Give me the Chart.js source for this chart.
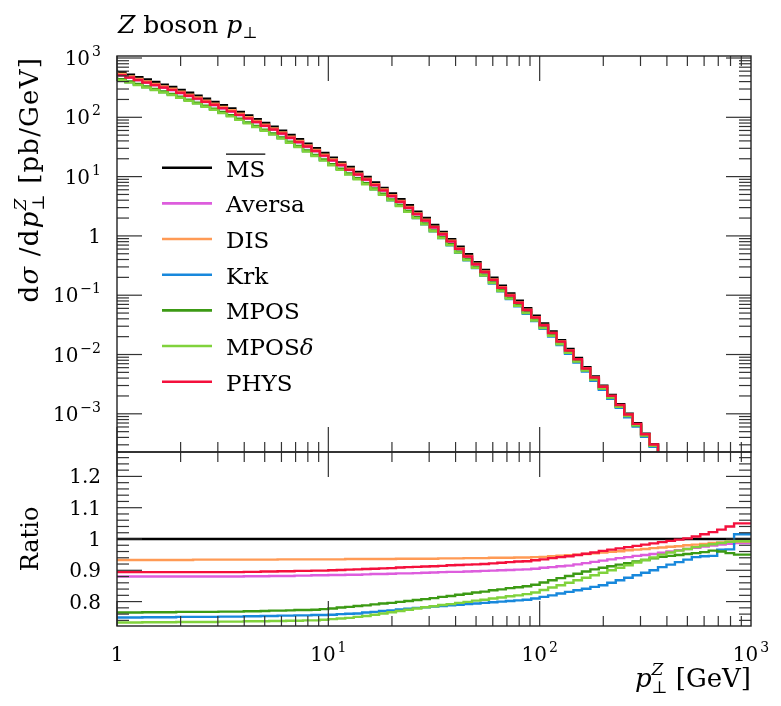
<!DOCTYPE html>
<html><head><meta charset="utf-8">
<script src="https://cdn.jsdelivr.net/npm/chart.js@4.4.1/dist/chart.umd.min.js"></script>
<style>
html,body{margin:0;padding:0;background:#fff;}
#wrap{position:relative;width:781px;height:706px;overflow:hidden;background:#fff;}
canvas{position:absolute;left:0;top:0;}
</style></head>
<body><div id="wrap"><canvas id="main" width="781" height="706"></canvas><canvas id="ratio" width="781" height="706"></canvas></div>
<script>
// ---------------- DATA ----------------
const binsPerDecade = 25;            // log bins from 1 to 1000 GeV
const nBins = 75;
const xEdges = Array.from({length: nBins + 1}, (_, k) => Math.pow(10, k / binsPerDecade));

const seriesNames = ['MS', 'Aversa', 'DIS', 'Krk', 'MPOS', 'MPOSδ', 'PHYS'];

// reference (MS-bar) dσ/dp⊥ [pb/GeV], one value per bin
const msbar = [631,575,525,476,433,393,356,324,290,259,231,205,182,160,141,123,107,93.3,80.5,69.5,
  59.4,50.4,42.7,35.8,30.1,25.1,20.9,17.4,14.5,12.0,9.86,7.98,6.46,5.18,4.15,3.28,2.56,2.00,1.53,1.17,
  0.883,0.658,0.490,0.361,0.267,0.197,0.145,0.107,0.0805,0.0605,0.0451,0.0333,0.0245,0.0175,0.0124,
  0.00875,0.00611,0.00427,0.00298,0.00208,0.00145,0.00100,0.000692,0.000461,0.000308,0.000204,0.000135,
  8.9e-5,5.9e-5,3.9e-5,2.6e-5,1.7e-5,1.12e-5,7.4e-6,4.9e-6];

// ratios to MS-bar, one value per bin
const ratioAversa = [0.880,0.880,0.880,0.880,0.880,0.880,0.880,0.880,0.880,0.880,0.880,0.880,0.880,0.880,0.880,
  0.880,0.881,0.881,0.881,0.882,0.882,0.882,0.883,0.883,0.884,
  0.884,0.885,0.885,0.886,0.886,0.887,0.888,0.888,0.889,0.890,0.890,0.891,0.892,
  0.893,0.894,0.895,0.895,0.896,0.897,0.898,0.899,0.900,0.901,0.902,0.903,
  0.905,0.908,0.910,0.913,0.915,0.919,0.923,0.927,0.931,0.935,
  0.939,0.942,0.946,0.949,0.952,0.956,0.960,0.964,0.968,0.972,0.976,0.979,0.982,0.985,0.987];
const ratioDIS = [0.933,0.933,0.933,0.933,0.933,0.933,0.933,0.933,0.933,0.933,0.934,0.934,0.934,0.934,0.934,
  0.934,0.934,0.934,0.934,0.934,0.935,0.935,0.935,0.935,0.935,
  0.935,0.935,0.935,0.936,0.936,0.936,0.936,0.936,0.936,0.937,0.937,0.937,0.937,
  0.937,0.938,0.938,0.938,0.939,0.939,0.939,0.940,0.940,0.940,0.941,0.941,
  0.942,0.943,0.945,0.947,0.948,0.950,0.952,0.954,0.957,0.959,0.961,0.964,0.966,0.968,0.971,
  0.973,0.975,0.977,0.980,0.982,0.984,0.987,0.989,0.991,0.992];
const ratioKrk = [0.749,0.749,0.749,0.749,0.750,0.750,0.750,0.750,0.751,0.751,0.751,0.751,0.751,0.752,0.752,
  0.752,0.753,0.753,0.754,0.754,0.755,0.755,0.756,0.756,0.757,
  0.757,0.758,0.760,0.761,0.762,0.765,0.767,0.770,0.772,0.775,0.777,0.780,0.782,
  0.784,0.786,0.788,0.790,0.792,0.794,0.796,0.798,0.800,0.802,0.804,0.806,
  0.810,0.815,0.820,0.826,0.831,0.836,0.841,0.847,
  0.852,0.860,0.868,0.876,0.884,0.892,0.900,0.910,
  0.918,0.926,0.934,0.942,0.945,0.946,0.966,0.967,1.015];
const ratioMPOS = [0.765,0.765,0.765,0.765,0.766,0.766,0.766,0.766,0.767,0.767,0.767,0.767,0.767,0.768,0.768,
  0.768,0.769,0.769,0.770,0.771,0.771,0.772,0.773,0.773,0.774,
  0.776,0.778,0.781,0.783,0.786,0.788,0.791,0.794,0.796,0.799,0.802,0.805,0.808,
  0.811,0.815,0.818,0.822,0.825,0.829,0.832,0.836,0.839,0.843,0.846,0.849,
  0.854,0.861,0.868,0.875,0.882,0.889,0.896,0.903,
  0.908,0.913,0.918,0.923,0.928,0.933,0.938,0.943,
  0.946,0.949,0.952,0.955,0.958,0.963,0.960,0.955,0.950];
const ratioMPOSdelta = [0.733,0.733,0.733,0.733,0.734,0.734,0.734,0.734,0.735,0.735,0.735,0.735,0.735,0.736,0.736,
  0.736,0.737,0.737,0.737,0.738,0.738,0.739,0.739,0.740,0.740,
  0.742,0.744,0.746,0.748,0.751,0.754,0.758,0.762,0.766,0.770,0.774,0.778,0.782,
  0.785,0.789,0.792,0.796,0.799,0.803,0.806,0.810,0.813,0.817,0.820,0.824,
  0.829,0.837,0.845,0.852,0.860,0.868,0.876,0.884,
  0.892,0.900,0.908,0.916,0.925,0.933,0.941,0.950,
  0.957,0.963,0.968,0.974,0.979,0.983,0.987,0.991,0.993];
const ratioPHYS = [0.894,0.894,0.894,0.894,0.894,0.894,0.894,0.894,0.894,0.894,0.894,0.894,0.894,0.894,0.894,
  0.894,0.895,0.895,0.896,0.896,0.897,0.897,0.898,0.898,0.899,
  0.899,0.900,0.901,0.902,0.903,0.904,0.905,0.906,0.907,0.909,0.910,0.911,0.912,
  0.913,0.914,0.916,0.917,0.918,0.919,0.920,0.922,0.924,0.926,0.928,0.929,
  0.932,0.935,0.939,0.942,0.945,0.949,0.953,0.957,0.962,0.966,
  0.970,0.974,0.978,0.982,0.986,0.990,0.994,0.998,1.002,
  1.008,1.015,1.022,1.030,1.040,1.050];

// tick labels
const xMajorTicks = [1, 10, 100, 1000];
const xTickExps = [0, 1, 2, 3];
const yMajorExps = [3, 2, 1, 0, -1, -2, -3];
const ratioMajorTicks = [0.8, 0.9, 1.0, 1.1, 1.2];
const ratioTickLabels = ['0.8', '0.9', '1', '1.1', '1.2'];

// ---------------- STYLE ----------------
const seriesColors = ['#000000', '#dd5ddd', '#ff9a55', '#1888dc', '#3c9a14', '#80d23c', '#f4103c'];
const SERIF = '"DejaVu Serif", serif';
const F = (px, it) => (it ? 'italic ' : '') + px + 'px ' + SERIF;

const ratioSeries = [msbar.map((v) => v / v), ratioAversa, ratioDIS, ratioKrk, ratioMPOS, ratioMPOSdelta, ratioPHYS];
const upperSeries = ratioSeries.map(r => msbar.map((v, i) => v * r[i]));

function stepPoints(vals) {
  return xEdges.map((x, k) => ({x: x, y: vals[Math.min(k, vals.length - 1)]}));
}

function drawRich(ctx, x, y, parts, align) {
  let cursor = 0, prevStart = 0, prevW = 0;
  const placed = [];
  for (const p of parts) {
    ctx.font = p.f;
    const w = ctx.measureText(p.t).width;
    if (p.dx) cursor += p.dx;
    if (p.stack) {
      placed.push({p, x: prevStart});
      const nw = Math.max(prevW, w);
      cursor = prevStart + nw; prevW = nw;
    } else {
      placed.push({p, x: cursor});
      prevStart = cursor; prevW = w; cursor += w;
    }
  }
  const x0 = align === 'right' ? x - cursor : align === 'center' ? x - cursor / 2 : x;
  ctx.textBaseline = 'alphabetic'; ctx.textAlign = 'left'; ctx.fillStyle = '#000';
  for (const q of placed) { ctx.font = q.p.f; ctx.fillText(q.p.t, x0 + q.x, y + (q.p.dy || 0)); }
  return cursor;
}
function expParts(e, big, small) {
  if (e === 0) return [{t: '1', f: F(big)}];
  const s = e < 0 ? '\u2212' + (-e) : String(e);
  return [{t: '10', f: F(big)}, {t: s, f: F(small), dy: -9, dx: 2}];
}
function seg(ctx, x1, y1, x2, y2) { ctx.beginPath(); ctx.moveTo(x1, y1); ctx.lineTo(x2, y2); ctx.stroke(); }

const MAJ = 25, MINX = 10, MINY = 12;
function drawXTicks(ctx, a, xs) {
  for (let d = 0; d < 3; d++) for (let m = 1; m <= 9; m++) {
    const v = m * Math.pow(10, d);
    const px = xs.getPixelForValue(v);
    const len = m === 1 ? MAJ : MINX;
    seg(ctx, px, a.top, px, a.top + len);
    seg(ctx, px, a.bottom, px, a.bottom - len);
  }
}

const upperPlugin = {
  id: 'upperDecor',
  afterDatasetsDraw(chart) {
    const {ctx, chartArea: a, scales: {x, y}} = chart;
    ctx.save();
    ctx.strokeStyle = '#333'; ctx.lineWidth = 1.2;
    drawXTicks(ctx, a, x);
    for (let e = -4; e <= 3; e++) for (let m = 1; m <= 9; m++) {
      const v = m * Math.pow(10, e);
      if (v < y.min || v > y.max) continue;
      const py = y.getPixelForValue(v);
      const len = m === 1 ? MAJ : MINY;
      seg(ctx, a.left, py, a.left + len, py);
      seg(ctx, a.right, py, a.right - len, py);
    }
    ctx.lineWidth = 1.4; ctx.strokeStyle = '#222';
    ctx.strokeRect(a.left, a.top, a.right - a.left, a.bottom - a.top);
    // y tick labels
    yMajorExps.forEach(e => {
      const py = y.getPixelForValue(Math.pow(10, e));
      drawRich(ctx, 101, py + 7, expParts(e, 20, 14), 'right');
    });
    // title
    drawRich(ctx, 118, 33, [{t: 'Z', f: F(25, true)}, {t: ' boson ', f: F(25)}, {t: 'p', f: F(25, true)}, {t: '\u22A5', f: F(16), dy: 5}], 'left');
    // y title (rotated)
    ctx.save();
    ctx.translate(38, 57); ctx.rotate(-Math.PI / 2);
    ctx.letterSpacing = '1.2px';
    drawRich(ctx, 0, 0, [{t: 'd', f: F(26)}, {t: 'σ', f: F(26, true)}, {t: ' /', f: F(26)}, {t: 'd', f: F(26)},
      {t: 'p', f: F(26, true)}, {t: '\u22A5', f: F(17), dy: 6}, {t: 'Z', f: F(17, true), dy: -12, stack: true},
      {t: ' [pb/GeV]', f: F(26)}], 'right');
    ctx.letterSpacing = '0px';
    ctx.restore();
    // legend
    const row0 = 167.7, dRow = 35.67;
    seriesNames.forEach((name, i) => {
      const ry = row0 + i * dRow;
      ctx.strokeStyle = seriesColors[i]; ctx.lineWidth = 2.6;
      seg(ctx, 162, ry, 212, ry);
      let parts;
      if (name === 'MPOSδ') parts = [{t: 'MPOS', f: F(23)}, {t: 'δ', f: F(23, true)}];
      else parts = [{t: name, f: F(23)}];
      const w = drawRich(ctx, 226, ry + 9, parts, 'left');
      if (name === 'MS') { ctx.strokeStyle = '#000'; ctx.lineWidth = 1.3; seg(ctx, 226, ry - 13.5, 226 + w, ry - 13.5); }
    });
    ctx.restore();
  }
};

const ratioPlugin = {
  id: 'ratioDecor',
  afterDatasetsDraw(chart) {
    const {ctx, chartArea: a, scales: {x, y}} = chart;
    ctx.save();
    ctx.strokeStyle = '#333'; ctx.lineWidth = 1.2;
    drawXTicks(ctx, a, x);
    for (let i = 36; i <= 64; i++) {
      const v = i / 50;
      if (v < y.min || v > y.max) continue;
      const py = y.getPixelForValue(v);
      const len = (i % 5 === 0) ? MAJ : MINY;
      seg(ctx, a.left, py, a.left + len, py);
      seg(ctx, a.right, py, a.right - len, py);
    }
    ctx.lineWidth = 1.4; ctx.strokeStyle = '#222';
    ctx.strokeRect(a.left, a.top, a.right - a.left, a.bottom - a.top);
    ratioMajorTicks.forEach((v, i) => {
      drawRich(ctx, 101, y.getPixelForValue(v) + 7, [{t: ratioTickLabels[i], f: F(20)}], 'right');
    });
    xMajorTicks.forEach((v, i) => {
      drawRich(ctx, x.getPixelForValue(v), 661, expParts(xTickExps[i], 20, 14), 'center');
    });
    // x title
    drawRich(ctx, 751, 687, [{t: 'p', f: F(26, true)}, {t: '\u22A5', f: F(17), dy: 6},
      {t: 'Z', f: F(17, true), dy: -12, stack: true}, {t: ' [GeV]', f: F(26)}], 'right');
    // ratio title
    ctx.save();
    ctx.translate(38, (a.top + a.bottom) / 2); ctx.rotate(-Math.PI / 2);
    drawRich(ctx, 0, 0, [{t: 'Ratio', f: F(24)}], 'center');
    ctx.restore();
    ctx.restore();
  }
};

function makeDatasets(seriesVals) {
  return seriesVals.map((vals, i) => ({
    label: seriesNames[i],
    data: stepPoints(vals),
    borderColor: seriesColors[i],
    borderWidth: 2.4,
    stepped: 'after',
    pointRadius: 0,
    fill: false,
    borderJoinStyle: 'miter',
    order: seriesNames.length - 1 - i
  }));
}

const common = {
  responsive: false, animation: false, devicePixelRatio: 1,
  plugins: {legend: {display: false}, tooltip: {enabled: false}},
  events: []
};

new Chart(document.getElementById('main'), {
  type: 'line',
  data: {datasets: makeDatasets(upperSeries)},
  options: Object.assign({}, common, {
    layout: {padding: {left: 117, top: 56, right: 30, bottom: 254}},
    scales: {
      x: {type: 'logarithmic', min: 1, max: 1000, display: false},
      y: {type: 'logarithmic', min: 2.27e-4, max: 1081, display: false}
    }
  }),
  plugins: [upperPlugin]
});

new Chart(document.getElementById('ratio'), {
  type: 'line',
  data: {datasets: makeDatasets(ratioSeries)},
  options: Object.assign({}, common, {
    layout: {padding: {left: 117, top: 452, right: 30, bottom: 80}},
    scales: {
      x: {type: 'logarithmic', min: 1, max: 1000, display: false},
      y: {type: 'linear', min: 0.722, max: 1.278, display: false}
    }
  }),
  plugins: [ratioPlugin]
});
</script></body></html>
